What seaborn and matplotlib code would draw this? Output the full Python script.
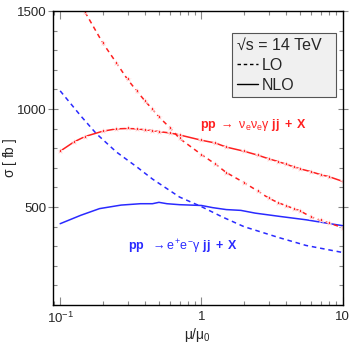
import numpy as np
import pandas as pd
import matplotlib
matplotlib.use('Agg')
import matplotlib.pyplot as plt
from matplotlib.lines import Line2D
from matplotlib.ticker import FixedLocator, FixedFormatter, NullFormatter
import seaborn as sns

# ---- data (sigma in fb vs mu/mu0) ----
mu_red = [0.1, 0.125, 0.15, 0.2, 0.25, 0.3, 0.35, 0.4, 0.45, 0.5, 0.6, 0.7,
          1.0, 1.25, 1.5, 2.0, 2.5, 3.0, 3.5, 4.0, 4.5, 5.0, 6.0, 7.0, 8.0, 10.0]
red_nlo = [785, 832, 860, 887, 899, 901, 899, 894, 890, 885, 878, 868,
           841, 827, 806, 785, 765, 746, 732, 718, 705, 695, 680, 665, 655, 631]

mu_red_lo = [0.15, 0.2, 0.25, 0.3, 0.35, 0.4, 0.45, 0.5, 0.6, 0.7,
             1.0, 1.25, 1.5, 2.0, 2.5, 3.0, 3.5, 4.0, 4.5, 5.0, 6.0, 7.0, 8.0, 10.0]
red_lo = [1495, 1338, 1236, 1151, 1091, 1040, 999, 960, 904, 850,
          768, 720, 676, 625, 582, 545, 522, 506, 492, 480, 449, 432, 418, 395]

mu_blue_lo = [0.1, 0.14, 0.18, 0.25, 0.35, 0.45, 0.7, 1.0, 1.4, 2.0, 3.5, 5.5, 10.0]
blue_lo = [1093, 965, 875, 781, 704, 643, 551, 502, 450, 400, 345, 304, 268]

mu_blue_nlo = [0.1, 0.14, 0.19, 0.27, 0.37, 0.45, 0.5, 0.57, 0.7, 1.0, 1.2, 1.5,
               1.9, 2.4, 3.6, 5.5, 9.0, 10.0]
blue_nlo = [415, 458, 492, 510, 517, 517, 524, 517, 512, 508, 497, 487,
            483, 469, 452, 435, 410, 405]

xtick_vals = [0.1, 1, 10]
xtick_labels = ['10$^{-1}$', '1', '10']
ytick_vals = [500, 1000, 1500]

RED = '#ff2020'
BLUE = '#2a2aff'

sns.set_style('ticks')
plt.rcParams['font.family'] = ['Liberation Sans', 'DejaVu Sans']
plt.rcParams['mathtext.fontset'] = 'custom'
plt.rcParams['mathtext.rm'] = 'Liberation Sans'
plt.rcParams['mathtext.it'] = 'Liberation Sans'   # upright greek like the original
plt.rcParams['mathtext.bf'] = 'Liberation Sans:bold'

fig = plt.figure(figsize=(3.57, 3.47), dpi=100)
ax = fig.add_axes([0.1485, 0.121, 0.8115, 0.847])

sns.lineplot(x=mu_blue_lo, y=blue_lo, ax=ax, color=BLUE, lw=1.1,
             linestyle=(0, (3, 2.5)), estimator=None, sort=False)
sns.lineplot(x=mu_blue_nlo, y=blue_nlo, ax=ax, color=BLUE, lw=1.1,
             estimator=None, sort=False)
sns.lineplot(x=mu_red_lo, y=red_lo, ax=ax, color=RED, lw=1.1,
             linestyle=(0, (3, 2.5)), marker='*', markersize=4,
             markeredgewidth=0.5, estimator=None, sort=False)
sns.lineplot(x=mu_red, y=red_nlo, ax=ax, color=RED, lw=1.1,
             marker='*', markersize=4, markeredgewidth=0.5,
             estimator=None, sort=False)

ax.set_xscale('log')
ax.set_xlim(0.089, 10)
ax.set_ylim(0, 1500)

ax.xaxis.set_major_locator(FixedLocator(xtick_vals))
ax.xaxis.set_major_formatter(FixedFormatter(xtick_labels))
ax.xaxis.set_minor_formatter(NullFormatter())
ax.yaxis.set_major_locator(FixedLocator(ytick_vals))
ax.yaxis.set_minor_locator(FixedLocator(np.arange(0, 1501, 100)))

ax.tick_params(which='both', direction='in', top=True, right=True,
               color='#888888', labelsize=9.5, width=0.8, pad=4)
ax.tick_params(which='major', length=6)
ax.tick_params(which='minor', length=3)
ax.tick_params(axis='y', which='major', direction='inout', length=7, pad=1)
for s in ax.spines.values():
    s.set_linewidth(1.0)
    s.set_color('black')

ax.set_xlabel(r'$\mu/\mu_0$', fontsize=10, labelpad=0)
ax.set_ylabel(r'$\sigma$ [ fb ]', fontsize=10)
ax.yaxis.set_label_coords(-0.117, 0.5)

ax.text(0.97, 917, r'$\mathbf{pp}\ \rightarrow\ \nu_e\nu_e\gamma\ \mathbf{jj\ +\ X}$',
        color=RED, fontsize=9, va='center', ha='left')
ax.text(0.30, 296, r'$\mathbf{pp}\ \ \rightarrow e^{+}e^{-}\gamma\ \mathbf{jj\ +\ X}$',
        color=BLUE, fontsize=9, va='center', ha='left')

handles = [Line2D([], [], color='black', lw=1.0, linestyle=(0, (2.5, 2))),
           Line2D([], [], color='black', lw=1.0)]
leg = ax.legend(handles, ['LO', 'NLO'], title='√s = 14 TeV',
                loc='upper left', bbox_to_anchor=(0.618, 0.707, 0.359, 0.218),
                mode='expand', borderaxespad=0, fontsize=11.5, title_fontsize=11.5,
                frameon=True, fancybox=False, handlelength=1.3,
                handletextpad=0.25, labelspacing=0.3, borderpad=0.3,
                alignment='left')
leg.get_frame().set_facecolor('#f0f0f0')
leg.get_frame().set_edgecolor('#555555')
leg.get_frame().set_linewidth(0.8)
leg.get_frame().set_alpha(1)

fig.savefig('out.png', dpi=100)
